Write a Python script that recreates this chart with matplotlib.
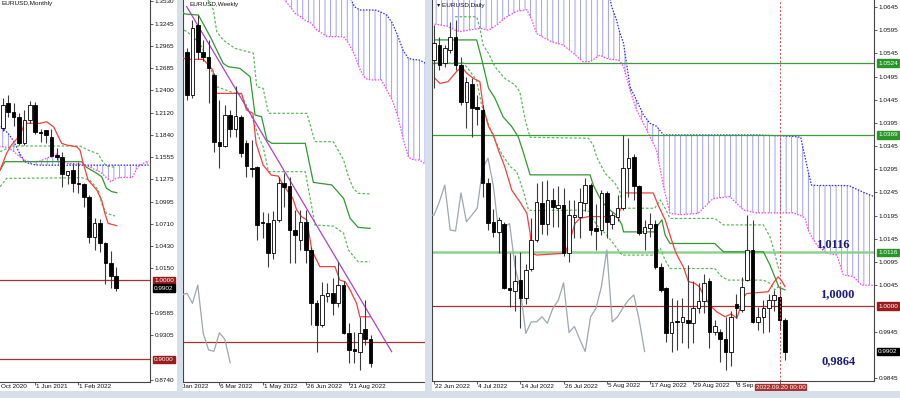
import numpy as np
import matplotlib
matplotlib.use("Agg")
import matplotlib.pyplot as plt
from matplotlib.patches import Rectangle

plt.rcParams['font.family'] = ['Liberation Sans', 'DejaVu Sans']
plt.rcParams['hatch.linewidth'] = 0.55

# ---------------- MONTHLY DATA (bar 0 = Dec 2020) ----------------
m_open  = [1.1926, 1.2238, 1.2130, 1.2067, 1.1731, 1.2026, 1.2215, 1.1872, 1.1899, 1.1807, 1.1583,
           1.1554, 1.1330, 1.1393, 1.1225, 1.1217, 1.1056, 1.0550, 1.0727, 1.0474, 1.0222, 1.0053]
m_high  = [1.2310, 1.2342, 1.2243, 1.2113, 1.2150, 1.2266, 1.2254, 1.1909, 1.1905, 1.1909, 1.1666,
           1.1616, 1.1386, 1.1483, 1.1495, 1.1233, 1.1076, 1.0786, 1.0774, 1.0486, 1.0374, 1.0171]
m_low   = [1.1890, 1.2067, 1.1952, 1.1704, 1.1704, 1.1986, 1.1845, 1.1752, 1.1730, 1.1563, 1.1524,
           1.1183, 1.1222, 1.1122, 1.1106, 1.0930, 1.0475, 1.0385, 1.0359, 0.9952, 0.9900, 0.9868]
m_close = [1.2215, 1.2130, 1.2067, 1.1731, 1.2026, 1.2215, 1.1880, 1.1862, 1.1836, 1.1571, 1.1554,
           1.1343, 1.1385, 1.1225, 1.1218, 1.1056, 1.0543, 1.0727, 1.0474, 1.0222, 1.0053, 0.9902]
m_tenkan_x = [-0.5, 0.7, 1.6, 3.2, 3.8, 4.4, 6.9, 8.1, 9.4, 10.3, 10.9, 11.8, 13.7, 14.3, 14.9, 15.8,
              17.4, 18.3, 18.9, 19.5, 21.1]
m_tenkan_y = [1.1393, 1.1605, 1.1710, 1.1836, 1.1940, 1.1984, 1.1984, 1.2004, 1.1941, 1.1815, 1.1730,
              1.1710, 1.1688, 1.1646, 1.1478, 1.1267, 1.1141, 1.1014, 1.0846, 1.0719, 1.0690]
m_kijun_x = [-0.5, 0.4, 14.6, 15.5, 17.4, 18.3, 19.2, 20.2, 21.1]
m_kijun_y = [1.1393, 1.1499, 1.1499, 1.1428, 1.1352, 1.1310, 1.1162, 1.1120, 1.1107]
m_dash1_x = [-0.5, 1.7, 14.3, 15.8, 17.7, 18.3, 19.2, 20.8]
m_dash1_y = [1.1625, 1.1697, 1.1697, 1.1646, 1.1596, 1.1520, 1.1444, 1.1428]
m_dash2_x = [-0.5, 0.7, 14.6, 16.1, 17.7, 18.3, 19.2, 20.8]
m_dash2_y = [1.1183, 1.1288, 1.1296, 1.1267, 1.1141, 1.0973, 1.0846, 1.0812]
m_cloud_x = list(range(-1, 28))
m_span_a = [1.1690, 1.1688, 1.1680, 1.1630, 1.1570, 1.1520, 1.1498, 1.1500, 1.1510, 1.1540, 1.1570,
            1.1596, 1.1510, 1.1478, 1.1470, 1.1466, 1.1466, 1.1435, 1.1400, 1.1372, 1.1310, 1.1246,
            1.1288, 1.1300, 1.1300, 1.1300, 1.1435, 1.1478, 1.1510]
m_span_b = [1.1960, 1.1921, 1.1857, 1.1760, 1.1620, 1.1500, 1.1475, 1.1460, 1.1455, 1.1455, 1.1455,
            1.1455, 1.1455, 1.1455, 1.1455, 1.1455, 1.1455, 1.1455, 1.1455, 1.1455, 1.1455, 1.1455,
            1.1455, 1.1455, 1.1455, 1.1455, 1.1455, 1.1455, 1.1455]
m_levels = [1.0000, 0.9000]
m_ticks = [1.3530, 1.3245, 1.2965, 1.2685, 1.2400, 1.2120, 1.1840, 1.1555, 1.1275, 1.0995, 1.0710,
           1.0430, 1.0150, 0.9585, 0.9305, 0.8740]
m_tick_idx = [-2, 6, 14]
m_tick_lab = ['Oct 2020', '1 Jun 2021', '1 Feb 2022']

# ---------------- WEEKLY DATA (bar 0 = week of 23 Jan 2022) ----------------
w_open  = [1.1382, 1.1176, 1.1510, 1.1382, 1.1359, 1.1271, 1.0954, 1.0935, 1.1081, 1.1013, 1.1073,
           1.0949, 1.0827, 1.0835, 1.0573, 1.0565, 1.0422, 1.0581, 1.0759, 1.0743, 1.0533, 1.0486,
           1.0573, 1.0438, 1.0184, 1.0081, 1.0219, 1.0232, 1.0184, 1.0271, 1.0041, 0.9965, 0.9954,
           1.0060, 1.0013]
w_high  = [1.1398, 1.1533, 1.1557, 1.1438, 1.1438, 1.1280, 1.1152, 1.1129, 1.1105, 1.1219, 1.1081,
           1.0962, 1.0962, 1.0838, 1.0619, 1.0613, 1.0625, 1.0787, 1.0803, 1.0787, 1.0629, 1.0629,
           1.0629, 1.0454, 1.0200, 1.0287, 1.0280, 1.0303, 1.0382, 1.0290, 1.0089, 1.0049, 1.0120,
           1.0200, 1.0033]
w_low   = [1.1152, 1.1160, 1.1350, 1.1340, 1.1137, 1.0906, 1.0827, 1.0930, 1.0978, 1.0978, 1.0882,
           1.0786, 1.0787, 1.0486, 1.0495, 1.0359, 1.0397, 1.0573, 1.0644, 1.0375, 1.0375, 1.0438,
           1.0375, 1.0081, 0.9954, 1.0070, 1.0190, 1.0129, 1.0168, 1.0038, 0.9899, 0.9899, 0.9867,
           0.9986, 0.9880]
w_close = [1.1176, 1.1494, 1.1382, 1.1359, 1.1303, 1.0954, 1.0935, 1.1081, 1.1013, 1.1076, 1.0898,
           1.0840, 1.0822, 1.0557, 1.0569, 1.0422, 1.0581, 1.0756, 1.0740, 1.0533, 1.0510, 1.0573,
           1.0438, 1.0187, 1.0081, 1.0224, 1.0232, 1.0184, 1.0271, 1.0041, 0.9962, 0.9956, 1.0044,
           1.0013, 0.9901]
w_tenkan_x = [-1.3, -0.1, 3.0, 4.8, 5.4, 10.1, 11.0, 12.2, 12.8, 14.1, 15.6, 16.9, 17.8, 19.6, 20.3,
              21.2, 22.2, 23.1, 24.6, 27.4, 28.3, 29.3, 30.2, 31.4, 32.0, 33.9]
w_tenkan_y = [1.1359, 1.1346, 1.1346, 1.1295, 1.1184, 1.1184, 1.1105, 1.1089, 1.0946, 1.0843, 1.0795,
              1.0790, 1.0748, 1.0684, 1.0629, 1.0597, 1.0581, 1.0438, 1.0359, 1.0359, 1.0295, 1.0287,
              1.0248, 1.0184, 1.0120, 1.0120]
w_kijun_x = [-1.3, -0.4, 2.1, 4.3, 6.7, 7.6, 9.8, 11.7, 12.6, 13.8, 14.8, 15.7, 21.9, 23.4, 26.8,
             29.0, 30.2, 31.7, 33.9]
w_kijun_y = [1.1581, 1.1562, 1.1557, 1.1454, 1.1327, 1.1311, 1.1303, 1.1263, 1.1081, 1.1073, 1.0962,
             1.0946, 1.0946, 1.0760, 1.0748, 1.0684, 1.0589, 1.0546, 1.0541]
w_dash1_x = [3.9, 4.9, 5.5, 6.7, 8.9, 12.3, 12.9, 14.1, 15.1, 22.2, 23.7, 27.1, 29.0, 29.9, 30.8,
             31.7, 33.9]
w_dash1_y = [1.1629, 1.1581, 1.1478, 1.1438, 1.1398, 1.1375, 1.1216, 1.1208, 1.1089, 1.1089, 1.0954,
             1.0954, 1.0867, 1.0787, 1.0732, 1.0708, 1.0705]
w_dash2_x = [-1.3, 0.0, 2.4, 3.9, 5.5, 8.0, 10.1, 12.0, 13.5, 14.1, 15.1, 21.9, 23.1, 23.7, 27.1,
             29.0, 29.9, 31.7, 33.9]
w_dash2_y = [1.1494, 1.1478, 1.1422, 1.1343, 1.1216, 1.1192, 1.1176, 1.1073, 1.0962, 1.0930, 1.0811,
             1.0811, 1.0644, 1.0557, 1.0552, 1.0518, 1.0438, 1.0382, 1.0382]
w_trend_x = [-0.06, 37.9]
w_trend_y = [1.1597, 0.99538]
w_cloud_x = list(range(17, 46))
w_cloud_top = [1.1750, 1.1750, 1.1750, 1.1750, 1.1750, 1.1750, 1.1750, 1.1750, 1.1750, 1.1750,
               1.1750, 1.1750, 1.1750, 1.1650, 1.1597, 1.1581, 1.1581, 1.1581, 1.1580, 1.1570,
               1.1557, 1.1520, 1.1460, 1.1390, 1.1350, 1.1345, 1.1343, 1.1330, 1.1310]
w_cloud_bot = [1.1660, 1.1630, 1.1600, 1.1565, 1.1550, 1.1530, 1.1518, 1.1486, 1.1470, 1.1454,
               1.1454, 1.1454, 1.1454, 1.1420, 1.1370, 1.1300, 1.1255, 1.1248, 1.1248, 1.1248,
               1.1200, 1.1152, 1.1080, 1.0970, 1.0880, 1.0867, 1.0867, 1.0850, 1.0843]
w_levels = [1.0000]
w_tick_idx = [-2, 6, 14, 22, 30]
w_tick_lab = ['9 Jan 2022', '6 Mar 2022', '1 May 2022', '26 Jun 2022', '21 Aug 2022']

# ---------------- DAILY DATA (bar 0 = 22 Jun 2022) ----------------
d_open  = [1.0531, 1.0563, 1.0524, 1.0552, 1.0581, 1.0520, 1.0441, 1.0480, 1.0430, 1.0423, 1.0265,
           1.0182, 1.0160, 1.0177, 1.0038, 1.0033, 1.0056, 1.0017, 1.0080, 1.0143, 1.0223, 1.0178,
           1.0229, 1.0211, 1.0218, 1.0114, 1.0193, 1.0193, 1.0223, 1.0261, 1.0168, 1.0164, 1.0244,
           1.0178, 1.0193, 1.0211, 1.0297, 1.0321, 1.0258, 1.0158, 1.0168, 1.0178, 1.0085, 1.0038,
           0.9941, 0.9968, 0.9966, 0.9971, 0.9963, 0.9995, 1.0012, 1.0053, 0.9943, 0.9945, 0.9928,
           0.9902, 1.0004, 0.9992, 1.0056, 1.0121, 0.9966, 0.9977, 0.9996, 1.0013, 1.0020, 0.9970]
d_high  = [1.0606, 1.0580, 1.0563, 1.0613, 1.0617, 1.0538, 1.0495, 1.0491, 1.0455, 1.0434, 1.0276,
           1.0210, 1.0193, 1.0182, 1.0114, 1.0110, 1.0117, 1.0090, 1.0190, 1.0265, 1.0270, 1.0272,
           1.0255, 1.0258, 1.0254, 1.0229, 1.0229, 1.0254, 1.0276, 1.0265, 1.0221, 1.0250, 1.0248,
           1.0203, 1.0240, 1.0369, 1.0362, 1.0329, 1.0261, 1.0186, 1.0200, 1.0186, 1.0092, 1.0042,
           1.0017, 1.0013, 1.0017, 1.0089, 1.0053, 1.0049, 1.0070, 1.0060, 0.9970, 0.9950, 0.9977,
           0.9990, 1.0027, 1.0063, 1.0197, 1.0186, 0.9999, 1.0013, 1.0027, 1.0035, 1.0038, 0.9975]
d_low   = [1.0470, 1.0509, 1.0516, 1.0545, 1.0509, 1.0434, 1.0383, 1.0365, 1.0390, 1.0236, 1.0165,
           1.0150, 1.0114, 1.0036, 0.9998, 0.9990, 0.9952, 1.0005, 1.0075, 1.0139, 1.0155, 1.0153,
           1.0171, 1.0171, 1.0107, 1.0096, 1.0146, 1.0146, 1.0204, 1.0153, 1.0121, 1.0153, 1.0146,
           1.0167, 1.0184, 1.0207, 1.0236, 1.0229, 1.0153, 1.0121, 1.0150, 1.0081, 1.0031, 0.9923,
           0.9902, 0.9905, 0.9920, 0.9909, 0.9920, 0.9984, 0.9984, 0.9909, 0.9938, 0.9880, 0.9862,
           0.9870, 0.9974, 0.9988, 1.0053, 0.9963, 0.9949, 0.9941, 0.9945, 0.9990, 0.9948, 0.9884]
d_close = [1.0567, 1.0520, 1.0556, 1.0581, 1.0520, 1.0441, 1.0484, 1.0427, 1.0425, 1.0265, 1.0180,
           1.0160, 1.0186, 1.0038, 1.0035, 1.0053, 1.0017, 1.0078, 1.0143, 1.0225, 1.0178, 1.0229,
           1.0214, 1.0218, 1.0114, 1.0196, 1.0196, 1.0225, 1.0261, 1.0164, 1.0162, 1.0244, 1.0182,
           1.0196, 1.0211, 1.0297, 1.0319, 1.0259, 1.0157, 1.0170, 1.0178, 1.0085, 1.0035, 0.9941,
           0.9966, 0.9966, 0.9977, 0.9963, 0.9995, 1.0012, 1.0050, 0.9943, 0.9956, 0.9928, 0.9902,
           0.9977, 0.9995, 1.0042, 1.0121, 0.9966, 0.9977, 0.9996, 1.0013, 1.0024, 0.9970, 0.9902]
d_tenkan_x = [0.2, 1.1, 2.6, 4.2, 5.1, 6.1, 7.3, 8.5, 9.1, 10.1, 11.0, 11.9, 13.1, 14.4, 15.9, 17.2,
              17.8, 18.1, 19.0, 24.3, 25.2, 26.1, 27.0, 28.6, 33.8, 34.8, 35.4, 40.6, 41.5, 42.8,
              43.7, 44.6, 45.3, 46.2, 47.1, 48.3, 49.1, 49.9, 51.1, 52.3, 53.9, 55.0, 56.1, 57.3,
              57.9, 61.9, 62.8, 63.7, 64.3, 65.0]
d_tenkan_y = [1.0491, 1.0480, 1.0484, 1.0506, 1.0516, 1.0502, 1.0491, 1.0484, 1.0430, 1.0387, 1.0369,
              1.0337, 1.0301, 1.0250, 1.0225, 1.0200, 1.0157, 1.0114, 1.0110, 1.0114, 1.0143, 1.0178,
              1.0189, 1.0193, 1.0193, 1.0214, 1.0244, 1.0244, 1.0218, 1.0186, 1.0153, 1.0121, 1.0103,
              1.0084, 1.0053, 1.0049, 1.0042, 1.0024, 1.0002, 0.9988, 0.9977, 0.9983, 0.9974, 1.0019,
              1.0027, 1.0031, 1.0049, 1.0063, 1.0056, 1.0042]
d_kijun_x = [0.2, 7.9, 8.8, 10.1, 11.3, 12.8, 14.4, 15.6, 16.5, 17.8, 28.9, 29.5, 30.4, 31.1, 32.6,
             33.8, 34.8, 35.1, 40.9, 41.5, 42.2, 42.8, 43.7, 52.0, 53.6, 61.0, 62.2, 63.1, 63.9, 65.0]
d_kijun_y = [1.0574, 1.0574, 1.0534, 1.0470, 1.0448, 1.0408, 1.0387, 1.0365, 1.0333, 1.0283, 1.0283,
             1.0261, 1.0240, 1.0225, 1.0207, 1.0196, 1.0175, 1.0160, 1.0160, 1.0175, 1.0186, 1.0153,
             1.0135, 1.0135, 1.0117, 1.0117, 1.0089, 1.0063, 1.0040, 1.0035]
d_dash1_x = [3.9, 7.9, 8.5, 9.1, 10.1, 11.3, 13.1, 15.0, 15.9, 16.9, 17.8, 28.6, 29.5, 30.1, 31.7,
             33.5, 34.4, 35.1, 40.9, 41.9, 42.8, 43.7, 52.0, 53.6, 61.0, 62.2, 63.1, 63.7, 64.3]
d_dash1_y = [1.0624, 1.0624, 1.0599, 1.0563, 1.0545, 1.0516, 1.0491, 1.0477, 1.0462, 1.0401, 1.0364,
             1.0362, 1.0347, 1.0322, 1.0286, 1.0265, 1.0247, 1.0211, 1.0211, 1.0229, 1.0211, 1.0189,
             1.0189, 1.0175, 1.0175, 1.0150, 1.0114, 1.0085, 1.0070]
d_dash2_x = [0.2, 5.5, 7.9, 8.8, 9.8, 11.0, 12.5, 14.1, 15.3, 16.5, 17.5, 18.4, 27.4, 28.9, 29.5,
             30.4, 31.7, 33.2, 34.8, 40.9, 41.9, 42.8, 43.7, 52.0, 53.3, 54.5, 61.0, 62.2, 63.1, 64.0]
d_dash2_y = [1.0524, 1.0524, 1.0487, 1.0434, 1.0401, 1.0365, 1.0329, 1.0301, 1.0290, 1.0250, 1.0207,
             1.0206, 1.0207, 1.0204, 1.0186, 1.0171, 1.0157, 1.0135, 1.0110, 1.0110, 1.0125, 1.0099,
             1.0081, 1.0081, 1.0063, 1.0056, 1.0056, 1.0049, 1.0035, 1.0045]
d_cloud_x = [-1, 2.4, 3.9, 4.8, 8.5, 10.1, 11.6, 13.1, 15.3, 17.2, 18.1, 19.0, 20.6, 21.8, 23.9, 25.8,
             27.6, 28.9, 30.7, 32.0, 32.9, 33.8, 34.4, 35.1, 36.3, 37.5, 38.8, 40.0, 41.2, 42.5,
             43.7, 45.6, 48.9, 51.7, 54.8, 57.3, 59.8, 66.5, 67.9, 68.7, 69.3, 69.9, 70.9, 72.7,
             74.6, 75.8, 77.0, 77.7, 79.2, 81.5]
d_cloud_top = [1.0700, 1.0700, 1.0700, 1.0700, 1.0700, 1.0700, 1.0700, 1.0700, 1.0700, 1.0700,
               1.0700, 1.0700, 1.0700, 1.0700, 1.0700, 1.0700, 1.0700, 1.0700, 1.0700, 1.0700,
               1.0646, 1.0617, 1.0590, 1.0567, 1.0473, 1.0444, 1.0412, 1.0394, 1.0388, 1.0369,
               1.0369, 1.0369, 1.0369, 1.0369, 1.0369, 1.0369, 1.0369, 1.0366, 1.0364, 1.0322,
               1.0290, 1.0261, 1.0260, 1.0260, 1.0260, 1.0260, 1.0259, 1.0255, 1.0247, 1.0236]
d_cloud_bot = [1.0610, 1.0604, 1.0595, 1.0592, 1.0599, 1.0595, 1.0606, 1.0621, 1.0636, 1.0639,
               1.0617, 1.0588, 1.0577, 1.0570, 1.0563, 1.0545, 1.0527, 1.0527, 1.0541, 1.0534,
               1.0532, 1.0531, 1.0529, 1.0516, 1.0466, 1.0423, 1.0394, 1.0365, 1.0337, 1.0258,
               1.0200, 1.0197, 1.0200, 1.0232, 1.0236, 1.0207, 1.0201, 1.0201, 1.0195, 1.0190,
               1.0164, 1.0150, 1.0132, 1.0114, 1.0110, 1.0067, 1.0065, 1.0063, 1.0045, 1.0045]
d_green_levels = [1.0524, 1.0369]
d_key_level = 1.0116
d_red_level = 1.0000
d_ticks = [1.0645, 1.0595, 1.0545, 1.0495, 1.0445, 1.0395, 1.0345, 1.0295, 1.0245, 1.0195, 1.0145,
           1.0095, 1.0045, 0.9945, 0.9845]
d_tick_idx = [0, 8, 16, 24, 32, 40, 48, 56]
d_tick_lab = ['22 Jun 2022', '4 Jul 2022', '14 Jul 2022', '26 Jul 2022', '5 Aug 2022', '17 Aug 2022',
              '29 Aug 2022', '8 Sep']
d_marker_idx = 64
d_marker_lab = '2022.09.20 00:00'
d_notes = ['1,0116', '1,0000', '0,9864']
last_price = 0.9902
CHIKOU_SHIFT = 26

# ---------------- STYLE / LAYOUT ----------------
W, H = 900, 398
FS = 4.6
C_TENKAN = '#ff3b3b'
C_KIJUN = '#2f9a2f'
C_DASH = '#52b852'
C_CHIKOU = '#9ea6b0'
C_BLUE = '#2a2aff'
C_MAG = '#ff3cff'
C_HATCH = '#8585ff'
C_LEVEL_RED = '#a83030'
C_BOX_RED = '#9c1c1c'
C_BOX_GREEN = '#2a962a'
C_FRAME = '#d6dfea'

fig = plt.figure(figsize=(9, 3.98), dpi=100)
fig.patch.set_facecolor(C_FRAME)


def frac(x0, y0, x1, y1):
    return [x0 / W, 1 - y1 / H, (x1 - x0) / W, (y1 - y0) / H]


def panel_bg(x0, y0, x1, y1):
    fig.add_artist(Rectangle((x0 / W, 1 - y1 / H), (x1 - x0) / W, (y1 - y0) / H,
                             transform=fig.transFigure, facecolor='white', edgecolor='none',
                             zorder=-5))


def cover(x0, y0, x1, y1):
    fig.add_artist(Rectangle((x0 / W, 1 - y1 / H), (x1 - x0) / W, (y1 - y0) / H,
                             transform=fig.transFigure, facecolor=C_FRAME, edgecolor='none',
                             zorder=20))


panel_bg(0, 0, 177, 391)
panel_bg(183, 0, 425, 391)
panel_bg(432, 0, 900, 391)


def make_ax(box, xlim, ylim, left=False, right=False):
    ax = fig.add_axes(frac(*box))
    ax.set_facecolor('white')
    for s in ['top', 'left', 'right', 'bottom']:
        ax.spines[s].set_visible(False)
    ax.spines['bottom'].set_visible(True)
    ax.spines['bottom'].set_color('#444444')
    ax.spines['bottom'].set_linewidth(0.8)
    if left:
        ax.spines['left'].set_visible(True)
        ax.spines['left'].set_color('#444444')
        ax.spines['left'].set_linewidth(0.8)
    if right:
        ax.spines['right'].set_visible(True)
        ax.spines['right'].set_color('#444444')
        ax.spines['right'].set_linewidth(0.8)
    ax.tick_params(axis='x', direction='out', length=2.5, width=0.6, labelbottom=False,
                   color='#444444')
    ax.tick_params(axis='y', left=False, labelleft=False)
    ax._lims = (xlim, ylim)
    return ax


def fix_limits(ax):
    ax.set_xlim(*ax._lims[0])
    ax.set_ylim(*ax._lims[1])


def candles(ax, o, h, l, c):
    o, h, l, c = map(np.asarray, (o, h, l, c))
    x = np.arange(len(o))
    ax.vlines(x, l, h, color='#3c3c3c', lw=0.8, zorder=5)
    up = c >= o
    bottom = np.minimum(o, c)
    height = np.maximum(np.abs(c - o), 1e-5)
    ax.bar(x[up], height[up], bottom=bottom[up], width=0.66, facecolor='white',
           edgecolor='black', linewidth=0.6, zorder=6)
    ax.bar(x[~up], height[~up], bottom=bottom[~up], width=0.66, facecolor='black',
           edgecolor='black', linewidth=0.6, zorder=6)


def chikou(ax, c):
    c = np.asarray(c)
    ax.plot(np.arange(len(c)) - CHIKOU_SHIFT, c, color=C_CHIKOU, lw=0.9, zorder=3)


def cloud(ax, x, top, bot, top_col, bot_col):
    ax.fill_between(x, top, bot, facecolor='none', edgecolor=C_HATCH, hatch='|||',
                    linewidth=0, zorder=1)
    ax.plot(x, top, color=top_col, lw=0.9, ls=(0, (1.2, 1.2)), zorder=2)
    ax.plot(x, bot, color=bot_col, lw=0.9, ls=(0, (1.2, 1.2)), zorder=2)


def lines(ax, tk, kj, d1, d2):
    ax.plot(*d1, color=C_DASH, lw=0.85, ls=(0, (2.2, 1.6)), zorder=3)
    ax.plot(*d2, color=C_DASH, lw=0.85, ls=(0, (2.2, 1.6)), zorder=3)
    ax.plot(*kj, color=C_KIJUN, lw=0.9, zorder=3)
    ax.plot(*tk, color=C_TENKAN, lw=0.9, zorder=4)


def xlabels(ax, idx, labs, extra_ticks=(), clamp_left=False):
    lo, hi = ax._lims[0]
    ax.set_xticks([i for i in list(idx) + list(extra_ticks) if lo <= i <= hi])
    for i, t in zip(idx, labs):
        xpos = max(i, lo) if clamp_left else i
        ax.annotate(t, xy=(xpos, 0), xycoords=('data', 'axes fraction'), xytext=(1, -2.5),
                    textcoords='offset pixels', ha='left', va='top', fontsize=FS,
                    annotation_clip=False, color='#111111')


def ylabels(ax, ticks):
    ax.yaxis.tick_right()
    ax.set_yticks(ticks)
    ax.set_yticklabels([f'{t:.4f}' for t in ticks])
    ax.tick_params(axis='y', right=True, labelright=True, direction='out', length=2,
                   width=0.6, pad=1.5, labelsize=FS, color='#444444', labelcolor='#111111')


def box_label(ax, value, face):
    ax.annotate(f'{value:.4f}', xy=(1, value), xycoords=('axes fraction', 'data'),
                xytext=(4, 0), textcoords='offset pixels', ha='left', va='center',
                fontsize=FS, color='white', annotation_clip=False, zorder=15,
                bbox=dict(boxstyle='square,pad=0.18', facecolor=face, edgecolor=face))


# ---------------- MONTHLY ----------------
axm = make_ax((0, 0, 150, 381.5), (-0.5185, 27.259), (0.8720, 1.3543), right=True)
cloud(axm, m_cloud_x, m_span_b, m_span_a, C_BLUE, C_MAG)
for lv in m_levels:
    axm.axhline(lv, color=C_LEVEL_RED, lw=0.9, zorder=2)
lines(axm, (m_tenkan_x, m_tenkan_y), (m_kijun_x, m_kijun_y), (m_dash1_x, m_dash1_y),
      (m_dash2_x, m_dash2_y))
chikou(axm, m_close)
candles(axm, m_open, m_high, m_low, m_close)
ylabels(axm, m_ticks)
box_label(axm, 1.0000, C_BOX_RED)
box_label(axm, last_price, 'black')
box_label(axm, 0.9000, C_BOX_RED)
xlabels(axm, m_tick_idx, m_tick_lab, clamp_left=True)
axm.text(0.012, 0.997, 'EURUSD,Monthly', transform=axm.transAxes, fontsize=FS, ha='left',
         va='top', color='#111111')
fix_limits(axm)

# ---------------- WEEKLY ----------------
axw = make_ax((183, 0, 425, 381.5), (-0.741, 44.074), (0.98119, 1.16286), left=True)
cloud(axw, w_cloud_x, w_cloud_top, w_cloud_bot, C_BLUE, C_MAG)
for lv in w_levels:
    axw.axhline(lv, color=C_LEVEL_RED, lw=0.9, zorder=2)
lines(axw, (w_tenkan_x, w_tenkan_y), (w_kijun_x, w_kijun_y), (w_dash1_x, w_dash1_y),
      (w_dash2_x, w_dash2_y))
axw.plot(w_trend_x, w_trend_y, color='#b040c8', lw=0.9, zorder=4)
chikou(axw, w_close)
candles(axw, w_open, w_high, w_low, w_close)
xlabels(axw, w_tick_idx, w_tick_lab)
axw.text(0.025, 0.994, 'EURUSD,Weekly', transform=axw.transAxes, fontsize=FS, ha='left',
         va='top', color='#111111')
fix_limits(axw)

# ---------------- DAILY ----------------
axd = make_ax((432, 0, 874, 381), (-0.370, 81.48), (0.98384, 1.06601), left=True, right=True)
cloud(axd, d_cloud_x, d_cloud_top, d_cloud_bot, C_BLUE, C_MAG)
for lv in d_green_levels:
    axd.axhline(lv, color='#3c9c3c', lw=0.9, zorder=2)
axd.axhline(d_key_level, color='#8fd28f', lw=1.8, zorder=2)
axd.axhline(d_red_level, color=C_LEVEL_RED, lw=0.9, zorder=2)
lines(axd, (d_tenkan_x, d_tenkan_y), (d_kijun_x, d_kijun_y), (d_dash1_x, d_dash1_y),
      (d_dash2_x, d_dash2_y))
chikou(axd, d_close)
candles(axd, d_open, d_high, d_low, d_close)
axd.axvline(d_marker_idx, color='#e04a4a', lw=0.7, ls=(0, (2, 2)), zorder=7)
ylabels(axd, d_ticks)
for lv in d_green_levels + [d_key_level]:
    box_label(axd, lv, C_BOX_GREEN)
box_label(axd, d_red_level, C_BOX_RED)
box_label(axd, last_price, 'black')
xlabels(axd, d_tick_idx, d_tick_lab, extra_ticks=[d_marker_idx])
axd.annotate(d_marker_lab, xy=(d_marker_idx, 0), xycoords=('data', 'axes fraction'),
             xytext=(1, -6.2), textcoords='offset pixels', ha='center', va='center',
             fontsize=FS, color='white', annotation_clip=False, zorder=15,
             bbox=dict(boxstyle='square,pad=0.12', facecolor='#a83232', edgecolor='#a83232'))
axd.text(0.011, 0.993, '\u25be EURUSD,Daily', transform=axd.transAxes, fontsize=FS, ha='left',
         va='top', color='#111111')
note_pos = [(0.869, 0.360), (0.878, 0.228), (0.882, 0.052)]
for t, (nx, ny) in zip(d_notes, note_pos):
    axd.text(nx, ny, t, transform=axd.transAxes, fontsize=9, fontweight='bold',
             family='Liberation Serif', color='#1c1c7a', ha='left', va='center', zorder=12)
fix_limits(axd)

# frame strips between panels (drawn over overflowing labels)
cover(177, 0, 182.6, 398)
cover(425, 0, 431.6, 398)
cover(0, 391, 900, 398)

fig.savefig('out.png', dpi=100, facecolor=fig.get_facecolor())
